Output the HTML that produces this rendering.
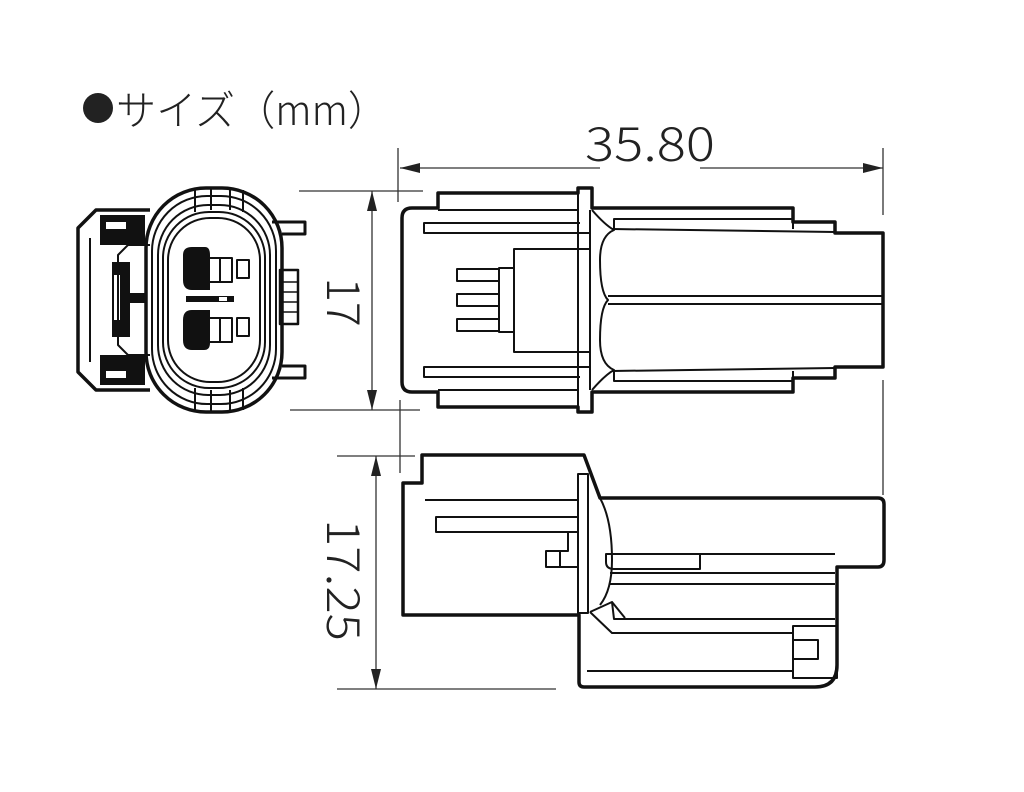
<!DOCTYPE html>
<html><head><meta charset="utf-8"><style>
html,body{margin:0;padding:0;background:#fff;width:1024px;height:792px;overflow:hidden}
svg{display:block}
</style></head><body>
<svg width="1024" height="792" viewBox="0 0 1024 792" xmlns="http://www.w3.org/2000/svg">
<defs>
<marker id="a" viewBox="0 0 20 10" refX="20" refY="5" markerWidth="20" markerHeight="10" markerUnits="userSpaceOnUse" orient="auto"><path d="M0,0 L20,5 L0,10 Z" fill="#222"/></marker>
</defs>
<circle cx="98" cy="108" r="15" fill="#222"/>
<text x="116" y="125" font-family="'Noto Sans CJK JP', sans-serif" font-weight="300" font-size="41" fill="#222" textLength="272" lengthAdjust="spacingAndGlyphs">サイズ（mm）</text>
<text x="650" y="161" text-anchor="middle" font-family="'Noto Sans CJK JP', 'Liberation Sans', sans-serif" font-weight="300" font-size="47" fill="#222" textLength="130" lengthAdjust="spacingAndGlyphs">35.80</text>
<text transform="translate(327,302) rotate(90)" text-anchor="middle" font-family="'Noto Sans CJK JP', 'Liberation Sans', sans-serif" font-weight="300" font-size="46" fill="#222">17</text>
<text transform="translate(327,580) rotate(90)" text-anchor="middle" font-family="'Noto Sans CJK JP', 'Liberation Sans', sans-serif" font-weight="300" font-size="46" fill="#222" textLength="122" lengthAdjust="spacingAndGlyphs">17.25</text>

<g stroke="#333" stroke-width="1.3" fill="none">
<line x1="398" y1="148" x2="398" y2="202"/>
<line x1="883" y1="148" x2="883" y2="215"/>
<line x1="883" y1="380" x2="883" y2="495"/>
<line x1="299" y1="191" x2="423" y2="191"/>
<line x1="290" y1="410" x2="420" y2="410"/>
<line x1="400" y1="400" x2="400" y2="473"/>
<line x1="337" y1="456" x2="415" y2="456"/>
<line x1="337" y1="689" x2="556" y2="689"/>
<line x1="600" y1="168" x2="400" y2="168" marker-end="url(#a)"/>
<line x1="700" y1="168" x2="883" y2="168" marker-end="url(#a)"/>
<line x1="372" y1="300" x2="372" y2="191" marker-end="url(#a)"/>
<line x1="372" y1="300" x2="372" y2="410" marker-end="url(#a)"/>
<line x1="376" y1="570" x2="376" y2="456" marker-end="url(#a)"/>
<line x1="376" y1="570" x2="376" y2="689" marker-end="url(#a)"/>
</g>

<!-- top view -->
<g stroke="#111" fill="none" stroke-linejoin="round">
<path d="M438,208 H412 Q402,208 402,218 V382 Q402,392 412,392 H438 V407 H578 V412 H592 V392 H793 V378 H835 V367 H883 V233 H835 V222 H793 V208 H592 V188 H578 V193 H438 Z" stroke-width="3.5"/>
<g stroke-width="2">
<line x1="438" y1="210" x2="578" y2="210"/>
<line x1="438" y1="390" x2="578" y2="390"/>
<line x1="578" y1="193" x2="578" y2="407"/>
<path d="M580,223 H424 V233 H590"/>
<path d="M580,377 H424 V367 H590"/>
<path d="M590,249 H514 V352 H590"/>
<path d="M514,268 H499 V332 H514"/>
<path d="M499,269 H457 V281 H499 M499,294 H457 V306 H499 M499,319 H457 V331 H499"/>
<line x1="590" y1="210" x2="590" y2="390"/>
<path d="M592,210 Q605,225 614,230 Q600,236 600,260 Q600,292 608,300 Q600,308 600,340 Q600,364 614,370 Q605,375 592,390"/>
<path d="M614,229 V219 H793 V229"/>
<path d="M614,371 V381 H793 V371"/>
<line x1="612" y1="229" x2="835" y2="232"/>
<line x1="612" y1="371" x2="835" y2="368"/>
<line x1="608" y1="296" x2="883" y2="296"/>
<line x1="608" y1="304" x2="883" y2="304"/>
</g>
</g>

<!-- side view -->
<g stroke="#111" fill="none" stroke-linejoin="round">
<path d="M422,455 H584 L600,498 H878 Q884,498 884,504 V560 Q884,567 878,567 H837 V665 Q837,687 815,687 H584 Q579,687 579,682 V615 H403 V483 H422 Z" stroke-width="3.5"/>
<g stroke-width="2">
<line x1="425" y1="500" x2="578" y2="500"/>
<rect x="578" y="474" width="10" height="139"/>
<path d="M578,517 H436 V532 H578"/>
<path d="M568,532 V551 H560 V567 H578 M560,551 H546 V567 H560"/>
<path d="M600,498 Q612,520 612,560 Q612,590 600,605"/>
<path d="M610,554 H700 V569 H614 Q606,569 606,562 V554 Z M700,554 H835"/>
<line x1="610" y1="573" x2="835" y2="573"/>
<line x1="610" y1="584" x2="835" y2="584"/>
<path d="M590,612 L612,602 L614,619 H835"/>
<path d="M590,612 L612,633 H793"/>
<path d="M612,602 L625,618"/>
<rect x="793" y="626" width="44" height="52"/>
<rect x="793" y="640" width="25" height="19"/>
<line x1="587" y1="671" x2="793" y2="671"/>
</g>
</g>

<!-- front view -->
<g stroke="#111" fill="none" stroke-linejoin="round">
<path d="M150,210 H96 L78,228 V372 L96,390 H150" stroke-width="3.5"/>
<rect x="146" y="188" width="136" height="224" rx="60" stroke-width="3.5" fill="#fff"/>
<rect x="152" y="196" width="124" height="208" rx="55" stroke-width="2"/>
<rect x="158" y="205" width="112" height="190" rx="50" stroke-width="2"/>
<rect x="163" y="212" width="102" height="176" rx="46" stroke-width="2"/>
<rect x="168" y="218" width="92" height="164" rx="42" stroke-width="2"/>
<path d="M195,190 V212 M211,188 V210 M230,188 V210 M243,190 V212 M195,388 V410 M211,390 V412 M230,390 V412 M243,388 V410" stroke-width="2"/>
<path d="M272,222 H305 V234 H282 M272,378 H305 V366 H282" stroke-width="3"/>
<rect x="280" y="270" width="18" height="54" stroke-width="2.5"/>
<path d="M280,282 H298 M280,292 H298 M280,302 H298 M280,312 H298" stroke-width="1.5"/>
<g fill="#111" stroke="none">
<rect x="100" y="215" width="45" height="30"/>
<rect x="100" y="355" width="45" height="30"/>
<rect x="112" y="262" width="18" height="75"/>
<rect x="112" y="293" width="35" height="10"/>
<path d="M183,255 Q183,247 192,247 H205 Q210,247 210,255 V290 H192 Q183,290 183,280 Z"/>
<path d="M183,320 Q183,310 192,310 H210 V343 Q210,350 204,350 H192 Q183,350 183,340 Z"/>
<rect x="186" y="296" width="48" height="6"/>
</g>
<g fill="#fff" stroke="none">
<rect x="106" y="222" width="20" height="7"/>
<rect x="106" y="371" width="20" height="7"/>
<rect x="114" y="275" width="6" height="45"/>
<rect x="219" y="297" width="8" height="4"/>
</g>
<path d="M150,245 H128 L118,255 V345 L128,355 H150" stroke-width="2"/>
<path d="M90,238 V362" stroke-width="2"/>
<path d="M208,258 H220 V282 H208 M208,318 H220 V342 H208" stroke-width="2"/>
<path d="M220,258 H232 V282 H220 M220,318 H232 V342 H220" stroke-width="2"/>
<rect x="237" y="260" width="12" height="18" stroke-width="2"/>
<rect x="237" y="318" width="12" height="18" stroke-width="2"/>
</g>
</svg>
</body></html>
